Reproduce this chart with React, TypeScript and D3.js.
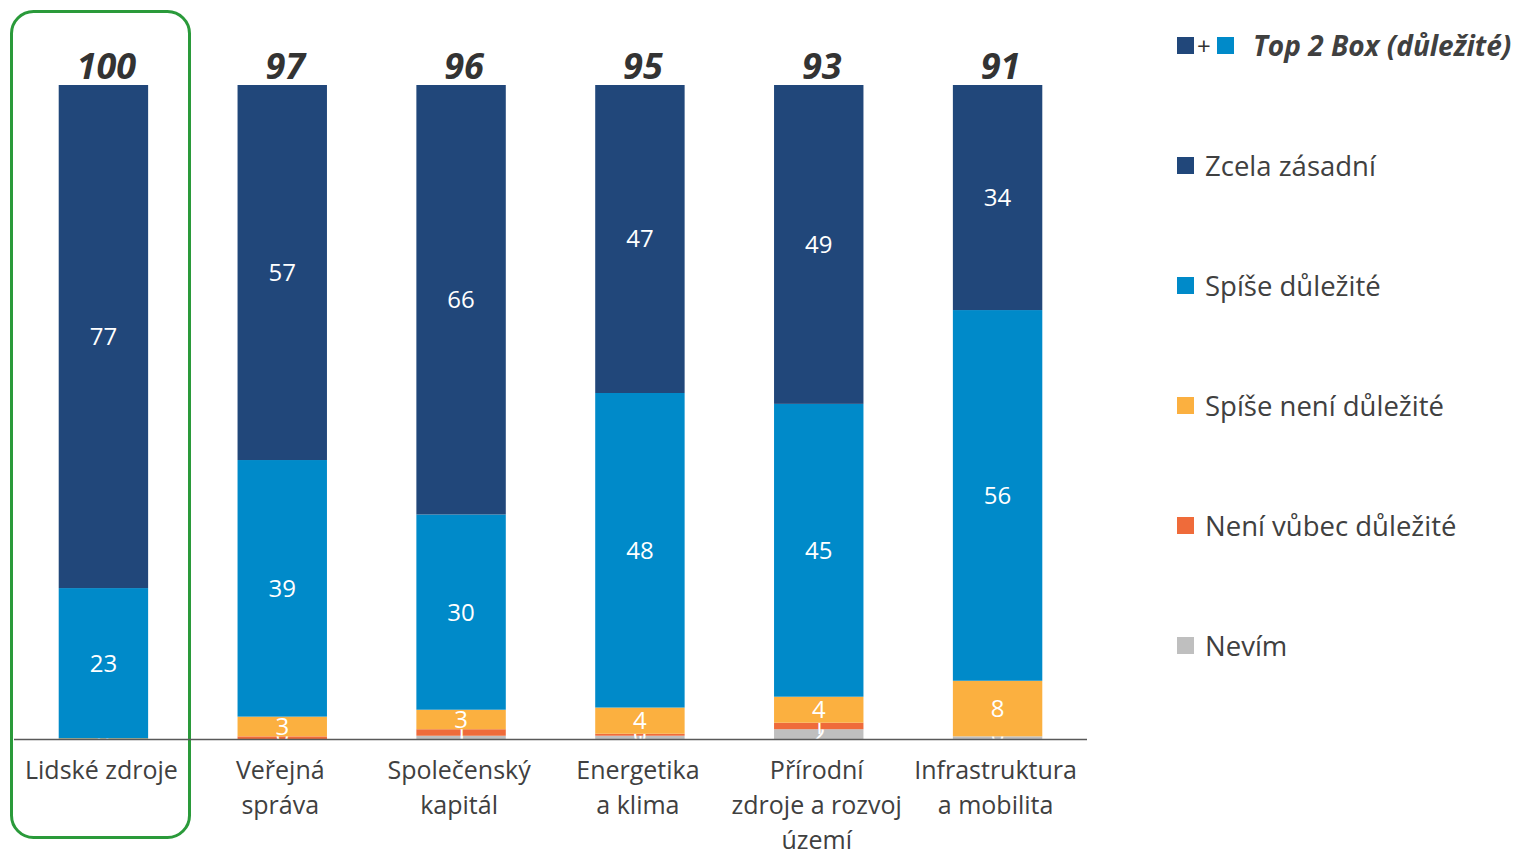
import React from 'react';
import * as d3 from 'd3';

const categories = [
    ['Lidské zdroje'],
    ['Veřejná', 'správa'],
    ['Společenský', 'kapitál'],
    ['Energetika', 'a klima'],
    ['Přírodní', 'zdroje a rozvoj', 'území'],
    ['Infrastruktura', 'a mobilita'],
];
const topBox = [100, 97, 96, 95, 93, 91];

const seriesNames = ['Nevím', 'Není vůbec důležité', 'Spíše není důležité', 'Spíše důležité', 'Zcela zásadní'];
const seriesColors = ['#bfbfbf', '#ef6b3a', '#fbb040', '#008ac9', '#21477a'];
const nevim = [0, 0, 0.5, 0.5, 1.5, 0.4];
const neniVubec = [0, 0.4, 1, 0.3, 1, 0];
const spiseNeni = [0.1, 3, 3, 4, 4, 8.4];
const spiseDulezite = [23, 39, 30, 48, 45, 56];
const zcelaZasadni = [77, 57, 66, 47, 49, 34];
const seriesValues = [nevim, neniVubec, spiseNeni, spiseDulezite, zcelaZasadni];

const legendOrder = [4, 3, 2, 1, 0];
const font = '"Open Sans", "Noto Sans", sans-serif';

const App = () => {
    const baseY = 739;
    const x = d3.scaleBand<number>()
        .domain(categories.map((_, i) => i))
        .range([14, 1087])
        .paddingInner(0.5)
        .paddingOuter(0.25);
    const y = d3.scaleLinear().domain([0, 1]).range([baseY, 85]);

    const rows = categories.map((_, i) => {
        const r: any = { i };
        seriesNames.forEach((s, k) => { r[s] = seriesValues[k][i]; });
        return r;
    });
    // each column adds up to 100 %
    const stack = d3.stack<any>().keys(seriesNames).offset(d3.stackOffsetExpand)(rows);

    return (
        <svg width={1516} height={850} style={{ position: 'absolute', left: 0, top: 0 }}>
            <rect x={11.5} y={11.5} width={178} height={826} rx={22} fill="none" stroke="#2a9a3a" strokeWidth={3} />
            {stack.map((layer, k) => (
                <g key={k}>
                    {layer.map((d, i) => {
                        const v = seriesValues[k][i];
                        if (v <= 0) return null;
                        const h = y(d[0]) - y(d[1]);
                        const cx = x(i)! + x.bandwidth() / 2;
                        const ly = Math.min((y(d[0]) + y(d[1])) / 2, baseY - 4);
                        return (
                            <g key={i}>
                                <rect x={x(i)} y={y(d[1])} width={x.bandwidth()} height={Math.max(0, h)} fill={seriesColors[k]} />
                                <text x={cx} y={ly} dy="0.35em" textAnchor="middle"
                                    fill="#fff" fontSize={24} fontFamily={font}>{Math.round(v)}</text>
                            </g>
                        );
                    })}
                </g>
            ))}
            <line x1={14} x2={1087} y1={baseY + 0.5} y2={baseY + 0.5} stroke="#595959" strokeWidth={1.5} />
            {topBox.map((v, i) => (
                <text key={i} x={x(i)! + x.bandwidth() / 2 + 3} y={79} textAnchor="middle" fontSize={36}
                    fontWeight="bold" fontStyle="italic" fill="#333" fontFamily={font}>{v}</text>
            ))}
            {categories.map((lines, i) => (
                <text key={i} textAnchor="middle" fontSize={25} fill="#404040" fontFamily={font}>
                    {lines.map((l, j) => (
                        <tspan key={j} x={x(i)! + x.bandwidth() / 2 - 2} y={779 + j * 35}>{l}</tspan>
                    ))}
                </text>
            ))}
            <g fontFamily={font}>
                <rect x={1177} y={37} width={17} height={17} fill={seriesColors[4]} />
                <text x={1197} y={55} fontSize={24} fill="#333">+</text>
                <rect x={1217} y={37} width={17} height={17} fill={seriesColors[3]} />
                <text x={1253} y={56} fontSize={28} fontWeight="bold" fontStyle="italic" fill="#404040">Top 2 Box (důležité)</text>
                {legendOrder.map((k, j) => (
                    <g key={k} transform={`translate(1177,${157 + j * 120})`}>
                        <rect width={17} height={17} fill={seriesColors[k]} />
                        <text x={28} y={19} fontSize={27.5} fill="#404040">{seriesNames[k]}</text>
                    </g>
                ))}
            </g>
        </svg>
    );
};

export default App;
